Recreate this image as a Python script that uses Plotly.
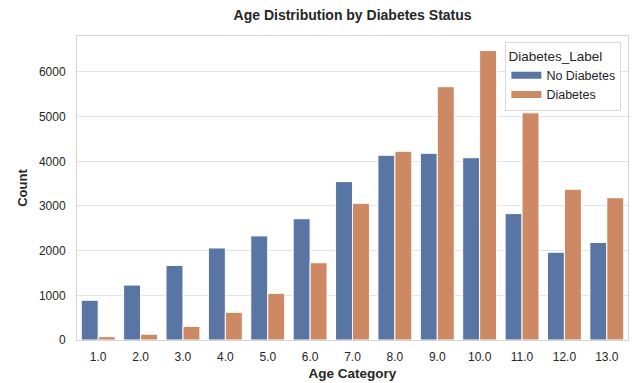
import plotly.graph_objects as go

categories = ["1.0", "2.0", "3.0", "4.0", "5.0", "6.0", "7.0", "8.0", "9.0", "10.0", "11.0", "12.0", "13.0"]
no_diabetes = [890, 1230, 1670, 2060, 2330, 2715, 3545, 4135, 4180, 4080, 2830, 1965, 2185]
diabetes = [75, 130, 305, 620, 1045, 1730, 3060, 4225, 5670, 6480, 5085, 3375, 3185]
series_names = ["No Diabetes", "Diabetes"]
series_colors = ["#5975A4", "#CC8963"]

fig = go.Figure()
for name, vals, col in zip(series_names, [no_diabetes, diabetes], series_colors):
    fig.add_trace(go.Bar(x=categories, y=vals, name=name, showlegend=False,
                         marker=dict(color=col, line=dict(color="white", width=1))))
# legend entries drawn as wide rectangles (like matplotlib patches)
for name, col in zip(series_names, series_colors):
    fig.add_trace(go.Scatter(x=[None], y=[None], mode="lines", name=name,
                             line=dict(color=col, width=7)))

fig.update_layout(
    width=633, height=383,
    margin=dict(l=77, r=5, t=36, b=43),
    paper_bgcolor="white", plot_bgcolor="white",
    font=dict(family="Liberation Sans, Arial, sans-serif", size=12, color="#262626"),
    title=dict(text="<b>Age Distribution by Diabetes Status</b>", x=0.557, xanchor="center",
               y=0.961, yanchor="middle", font=dict(size=14, color="#262626")),
    barmode="group", bargap=0.2, bargroupgap=0,
    showlegend=True,
    legend=dict(title=dict(text="Diabetes_Label", font=dict(size=13.5)),
                x=0.988, xanchor="right", y=0.98, yanchor="top",
                bgcolor="rgba(255,255,255,0.85)", bordercolor="#d9d9d9", borderwidth=1,
                font=dict(size=12.5), tracegroupgap=0, itemwidth=30,
                entrywidth=86, entrywidthmode="pixels"),
)
fig.update_xaxes(
    type="category", range=[-0.5, 12.5],
    showgrid=False, showline=True, linecolor="#d4d4d4", linewidth=1, mirror=True,
    ticks="", ticklabelstandoff=6,
    title=dict(text="<b>Age Category</b>", font=dict(size=13.5), standoff=5),
)
fig.update_yaxes(
    range=[0, 6805], tickvals=[0, 1000, 2000, 3000, 4000, 5000, 6000],
    showgrid=True, gridcolor="#e3e3e3", gridwidth=1, zeroline=False,
    showline=True, linecolor="#d4d4d4", linewidth=1, mirror=True,
    ticks="", ticklabelstandoff=8,
    title=dict(text="<b>Count</b>", font=dict(size=13), standoff=8),
)

fig.write_html("out.html", config={"displayModeBar": False},
               post_script="document.body.style.margin='0';document.body.style.overflow='hidden';")
